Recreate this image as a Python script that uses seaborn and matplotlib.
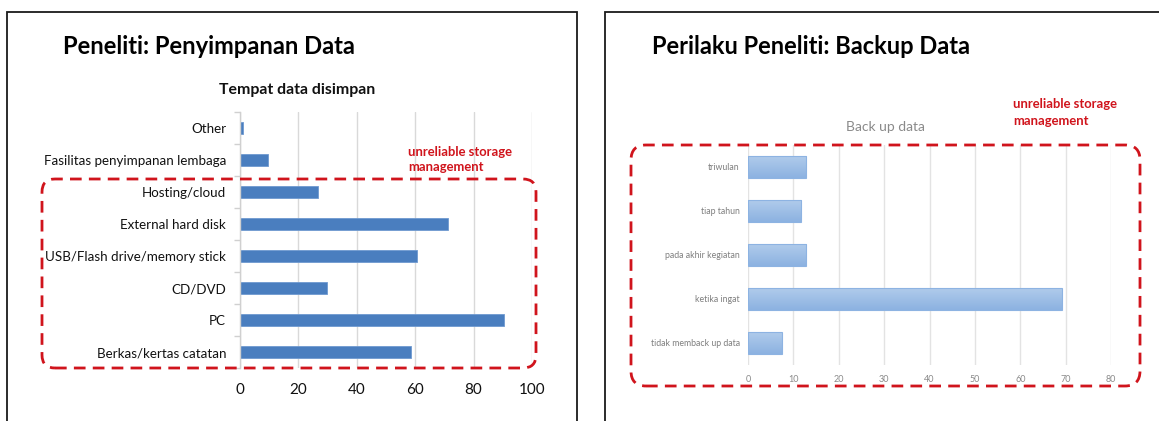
import numpy as np
import matplotlib
matplotlib.use("Agg")
import matplotlib.pyplot as plt
from matplotlib.patches import Rectangle, FancyBboxPatch
from matplotlib.colors import LinearSegmentedColormap
import seaborn as sns

# ---------------- data ----------------
storage_categories = ["Other", "Fasilitas penyimpanan lembaga", "Hosting/cloud",
                      "External hard disk", "USB/Flash drive/memory stick",
                      "CD/DVD", "PC", "Berkas/kertas catatan"]
storage_values = [1.1, 9.6, 26.7, 71.4, 60.7, 29.9, 90.5, 58.6]
storage_xticks = [0, 20, 40, 60, 80, 100]

backup_categories = ["triwulan", "tiap tahun", "pada akhir kegiatan",
                     "ketika ingat", "tidak memback up data"]
backup_values = [12.8, 11.7, 12.8, 69.2, 7.4]
backup_xticks = [0, 10, 20, 30, 40, 50, 60, 70, 80]

left_title = "Peneliti: Penyimpanan Data"
left_chart_title = "Tempat data disimpan"
right_title = "Perilaku Peneliti: Backup Data"
right_chart_title = "Back up data"
note_text = "unreliable storage\nmanagement"

# ---------------- style ----------------
sns.set_theme(style="white")
plt.rcParams["font.family"] = ["Lato", "DejaVu Sans"]

W, H = 1159, 421
DPI = 100
fig = plt.figure(figsize=(W / DPI, H / DPI), dpi=DPI)
fig.patch.set_facecolor("white")


def fx(px):
    return px / W


def fy(py):
    return 1 - py / H


def inch_box(x0, y0, x1, y1):
    # pixel (top-left origin) -> inches (bottom-left origin)
    return x0 / DPI, (H - y1) / DPI, (x1 - x0) / DPI, (y1 - y0) / DPI


RED = "#d0141c"

# ---------------- frames ----------------
fig.add_artist(Rectangle((fx(7), -0.1), fx(577) - fx(7), fy(12) + 0.1,
                         transform=fig.transFigure, fill=False,
                         edgecolor="#1a1a1a", lw=1.3, clip_on=False))
fig.add_artist(Rectangle((fx(605), -0.1), 0.5, fy(12) + 0.1,
                         transform=fig.transFigure, fill=False,
                         edgecolor="#1a1a1a", lw=1.3, clip_on=False))

# ---------------- left chart ----------------
ax1 = fig.add_axes([fx(240), fy(368), (532 - 240) / W, (368 - 112) / H])
sns.barplot(x=storage_values, y=storage_categories, ax=ax1, color="#4a7ebf",
            width=0.38, edgecolor="#6f9ad0", linewidth=0.6, saturation=1)
ax1.set_xlim(0, 100)
ax1.set_xticks(storage_xticks)
ax1.set_xticklabels([str(v) for v in storage_xticks])
ax1.grid(axis="x", color="#d9d9d9", lw=1.0)
ax1.set_axisbelow(True)
for s in ["top", "right", "bottom"]:
    ax1.spines[s].set_visible(False)
ax1.spines["left"].set_color("#d0d0d0")
ax1.spines["left"].set_linewidth(1.0)
ax1.set_yticks(np.arange(-0.5, len(storage_categories), 1), minor=True)
ax1.tick_params(axis="y", which="major", length=0, pad=10, labelsize=9.6,
                labelcolor="#111111")
ax1.tick_params(axis="y", which="minor", length=4, color="#d0d0d0", width=1,
                left=True)
ax1.tick_params(axis="x", length=0, pad=11, labelsize=11, labelcolor="#111111")
ax1.set_xlabel("")
ax1.set_ylabel("")

fig.text(fx(63), fy(47), left_title, ha="left", va="center",
         fontsize=17.1, fontweight="bold", color="#000000")
fig.text(fx(297), fy(90), left_chart_title, ha="center", va="center",
         fontsize=11.4, fontweight="bold", color="#111111")
fig.text(fx(408), fy(159.5), note_text, ha="left", va="center",
         fontsize=9.4, fontweight="bold", color=RED, linespacing=1.25)

x, y, w, h = inch_box(42, 179, 536, 368)
fig.add_artist(FancyBboxPatch((x, y), w, h,
                              boxstyle="round,pad=0,rounding_size=0.13",
                              transform=fig.dpi_scale_trans, fill=False,
                              edgecolor=RED, lw=2.0,
                              linestyle=(0, (4.2, 2.6)), clip_on=False))

# ---------------- right chart ----------------
ax2 = fig.add_axes([fx(748), fy(365), (1111 - 748) / W, (365 - 145) / H])
sns.barplot(x=backup_values, y=backup_categories, ax=ax2, color="#9dbde6",
            width=0.5, edgecolor="#8db3e2", linewidth=0.8, saturation=1)
ax2.set_xlim(0, 80)
ax2.set_ylim(len(backup_categories) - 0.5, -0.5)

# subtle vertical gradient inside the bars
grad_cmap = LinearSegmentedColormap.from_list("g", ["#b0cbeb", "#8cb2e1"])
grad = np.linspace(0, 1, 64).reshape(-1, 1)
for bar in list(ax2.patches):
    bx, by = bar.get_x(), bar.get_y()
    bw, bh = bar.get_width(), bar.get_height()
    im = ax2.imshow(grad, cmap=grad_cmap, aspect="auto", origin="upper",
                    extent=(bx, bx + bw, by + bh, by), zorder=bar.get_zorder())
    im.set_clip_path(bar)
    bar.set_facecolor("none")
    bar.set_zorder(bar.get_zorder() + 0.1)
ax2.set_xlim(0, 80)
ax2.set_ylim(len(backup_categories) - 0.5, -0.5)

ax2.set_xticks(backup_xticks)
ax2.set_xticklabels([str(v) for v in backup_xticks])
ax2.grid(axis="x", color="#e3e3e3", lw=1.0)
ax2.set_axisbelow(True)
for s in ["top", "right", "bottom", "left"]:
    ax2.spines[s].set_visible(False)
ax2.tick_params(axis="y", length=0, pad=6, labelsize=6.3, labelcolor="#7f7f7f")
ax2.tick_params(axis="x", length=0, pad=7, labelsize=6.5, labelcolor="#8a8a8a")
ax2.set_xlabel("")
ax2.set_ylabel("")

fig.text(fx(652), fy(47), right_title, ha="left", va="center",
         fontsize=17.0, fontweight="bold", color="#000000")
fig.text(fx(885), fy(127), right_chart_title, ha="center", va="center",
         fontsize=10, color="#8a8a8a")
fig.text(fx(1013), fy(112.5), note_text, ha="left", va="center",
         fontsize=9.4, fontweight="bold", color=RED, linespacing=1.42)

x, y, w, h = inch_box(631, 145, 1140, 386)
fig.add_artist(FancyBboxPatch((x, y), w, h,
                              boxstyle="round,pad=0,rounding_size=0.15",
                              transform=fig.dpi_scale_trans, fill=False,
                              edgecolor=RED, lw=2.0,
                              linestyle=(0, (4.2, 2.6)), clip_on=False))

fig.savefig("out.png", dpi=DPI, facecolor="white")
